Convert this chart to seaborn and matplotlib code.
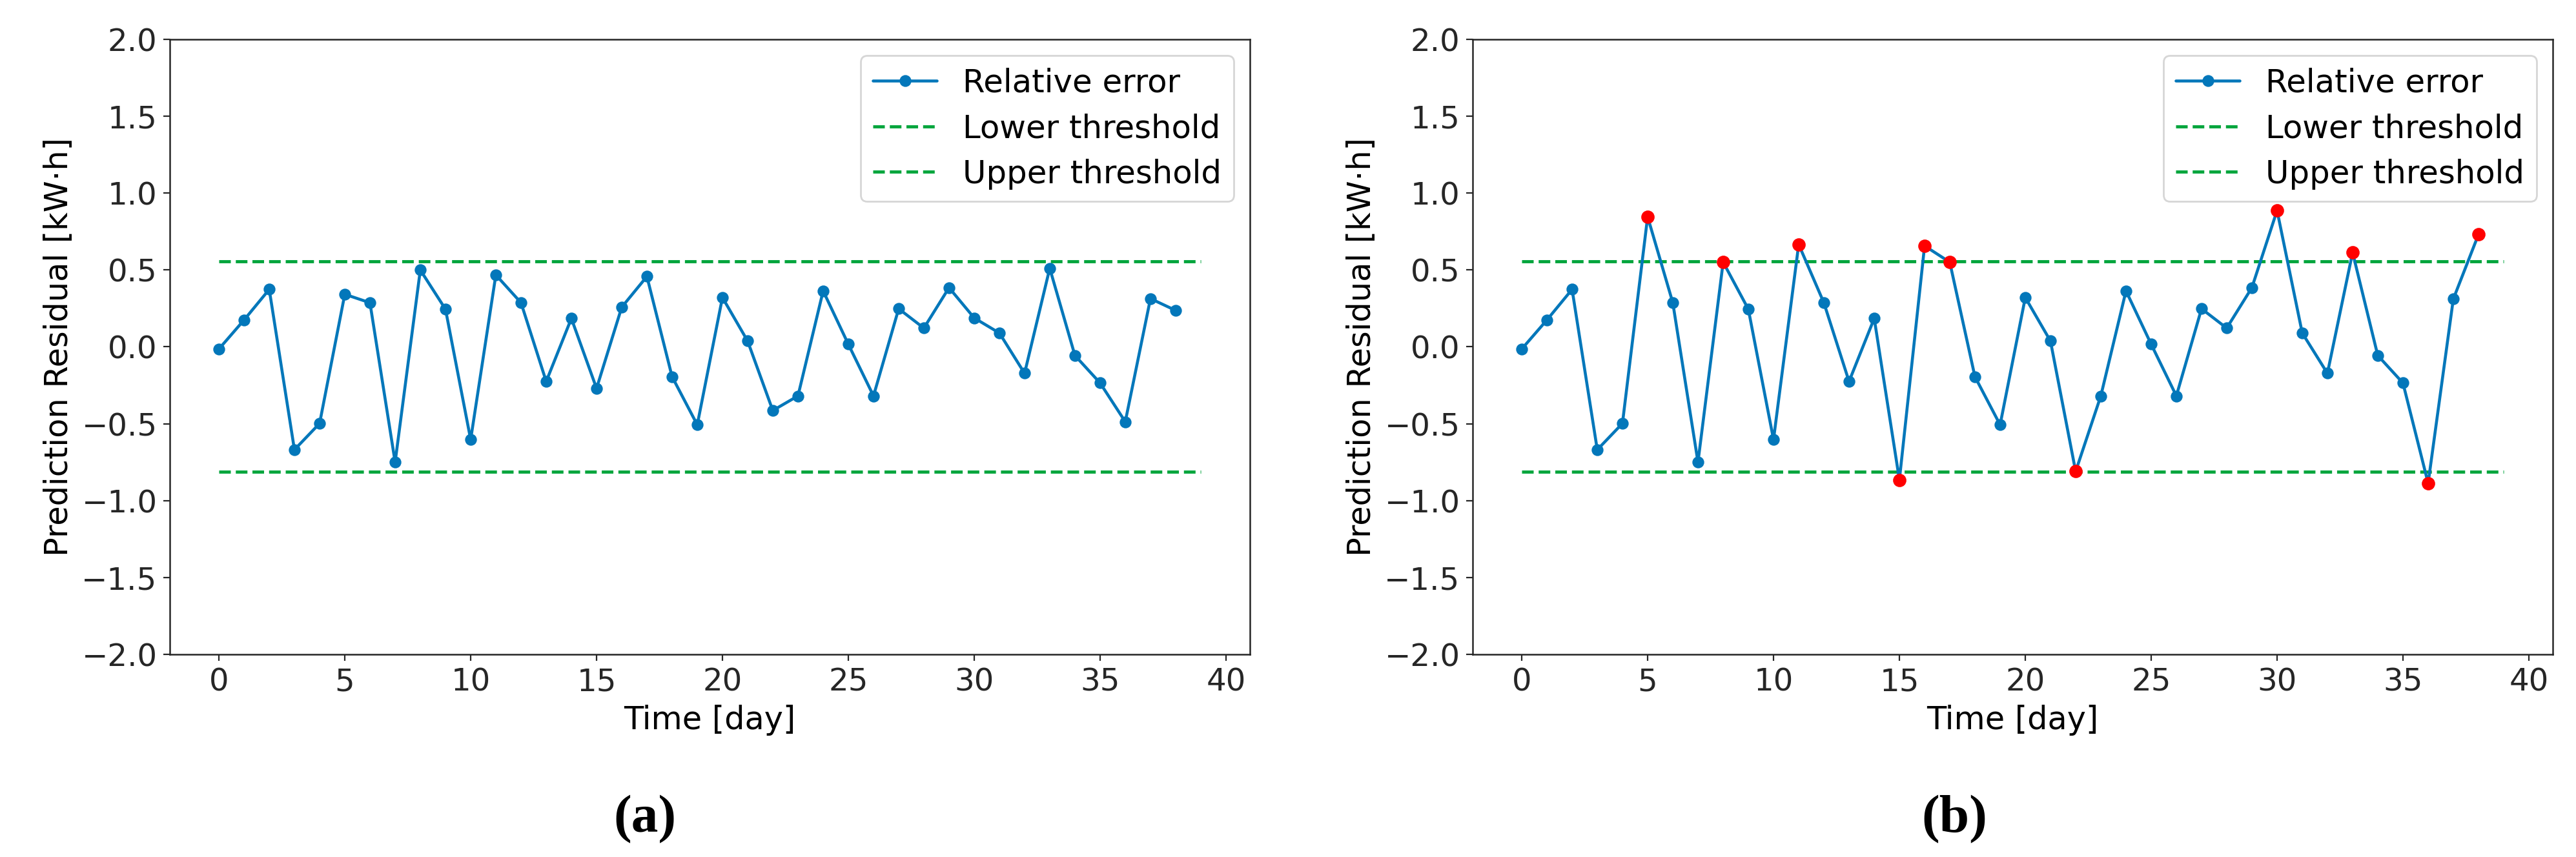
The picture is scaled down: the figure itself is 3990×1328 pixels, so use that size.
import matplotlib
matplotlib.use("Agg")
import matplotlib.pyplot as plt
import seaborn as sns
import pandas as pd

# ---------------- data ----------------
days = list(range(39))
residual_a = [-0.014, 0.175, 0.374, -0.669, -0.498, 0.342, 0.287, -0.750, 0.500, 0.245,
              -0.603, 0.468, 0.287, -0.225, 0.185, -0.270, 0.258, 0.458, -0.194, -0.507,
              0.321, 0.038, -0.414, -0.319, 0.364, 0.017, -0.319, 0.248, 0.122, 0.385,
              0.188, 0.090, -0.172, 0.511, -0.056, -0.235, -0.487, 0.314, 0.237]
residual_b = [-0.014, 0.175, 0.374, -0.669, -0.498, 0.846, 0.287, -0.750, 0.551, 0.245,
              -0.603, 0.666, 0.287, -0.225, 0.185, -0.865, 0.657, 0.551, -0.194, -0.507,
              0.321, 0.038, -0.810, -0.319, 0.364, 0.017, -0.319, 0.248, 0.122, 0.385,
              0.887, 0.090, -0.172, 0.614, -0.056, -0.235, -0.887, 0.311, 0.731]
anomaly_days = [5, 8, 11, 15, 16, 17, 22, 30, 33, 36, 38]
upper_threshold = 0.557
lower_threshold = -0.811
threshold_days = [0, 39]
x_ticks = [0, 5, 10, 15, 20, 25, 30, 35, 40]
y_ticks = [-2.0, -1.5, -1.0, -0.5, 0.0, 0.5, 1.0, 1.5, 2.0]
panel_labels = ["(a)", "(b)"]
series_label = "Relative error"
lower_label = "Lower threshold"
upper_label = "Upper threshold"
x_label = "Time [day]"
y_label = "Prediction Residual [kW\u00b7h]"

# ---------------- style ----------------
sns.set_style("ticks", {"axes.edgecolor": "0.15", "xtick.color": "0.15",
                        "ytick.color": "0.15", "text.color": "black",
                        "axes.labelcolor": "black"})
plt.rcParams["font.family"] = ["DejaVu Sans"]
plt.rcParams["xtick.direction"] = "out"
plt.rcParams["ytick.direction"] = "out"
plt.rcParams["xtick.major.size"] = 3.5
plt.rcParams["ytick.major.size"] = 3.5
plt.rcParams["axes.linewidth"] = 0.9

BLUE = "#0377BA"
GREEN = "#00A53C"
RED = "#FF0000"
FS_TICK = 17.4
FS_LABEL = 17.8
FS_LEGEND = 17.9

fig = plt.figure(figsize=(19.95, 6.64), dpi=200)
W, H = 3990.0, 1328.0
axes_px = [(263, 1936), (2281, 3954)]
top_px, bottom_px = 61, 1014
caption_x_px = [999, 3027]
caption_y_px = 1270

datasets = [residual_a, residual_b]
for i, vals in enumerate(datasets):
    l, r = axes_px[i]
    ax = fig.add_axes([l / W, 1 - bottom_px / H, (r - l) / W, (bottom_px - top_px) / H])
    df = pd.DataFrame({"day": days, "res": vals})
    sns.lineplot(data=df, x="day", y="res", ax=ax, color=BLUE, marker="o",
                 markersize=5.8, markeredgecolor=BLUE, markeredgewidth=0.8,
                 linewidth=1.65, label=series_label, zorder=2)
    sns.lineplot(x=threshold_days, y=[lower_threshold] * len(threshold_days), ax=ax,
                 color=GREEN, linestyle="--", linewidth=1.75, label=lower_label, zorder=1)
    sns.lineplot(x=threshold_days, y=[upper_threshold] * len(threshold_days), ax=ax,
                 color=GREEN, linestyle="--", linewidth=1.75, label=upper_label, zorder=1)
    if i == 1:
        adf = df[df["day"].isin(anomaly_days)]
        sns.scatterplot(data=adf, x="day", y="res", ax=ax, color=RED, s=44,
                        edgecolor=RED, linewidth=0.8, zorder=3, legend=False)
    ax.set_ylim(-2, 2)
    ax.set_yticks(y_ticks)
    ax.set_yticklabels([f"{t:.1f}".replace("-", "\u2212") for t in y_ticks])
    ax.set_xticks(x_ticks)
    ax.tick_params(labelsize=FS_TICK)
    ax.set_xlabel(x_label, fontsize=FS_LABEL)
    ax.set_ylabel(y_label, fontsize=FS_LABEL)
    for s in ax.spines.values():
        s.set_visible(True)
    leg = ax.legend(loc="upper right", fontsize=FS_LEGEND, frameon=True, fancybox=True,
                    framealpha=0.8, edgecolor="0.8", numpoints=1,
                    borderpad=0.38, labelspacing=0.45)
    fig.text(caption_x_px[i] / W, 1 - caption_y_px / H, panel_labels[i],
             ha="center", va="center", fontsize=30, fontweight="bold",
             family=["Liberation Serif", "DejaVu Serif"])

fig.savefig("out.png", dpi=200, facecolor="white")
